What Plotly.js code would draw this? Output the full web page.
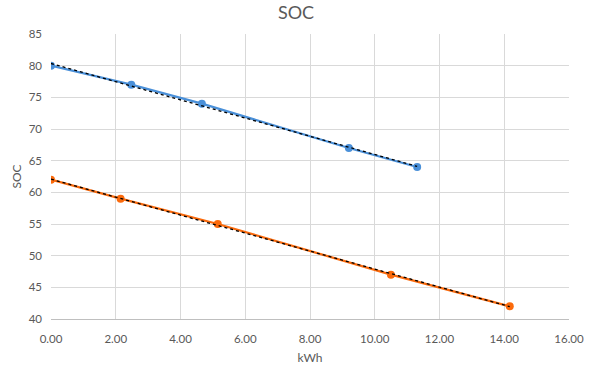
<!DOCTYPE html>
<html>
<head>
<meta charset="utf-8">
<script src="https://cdn.plot.ly/plotly-3.0.1.min.js"></script>
<style>html,body{margin:0;padding:0;background:#fff;}#chart{width:592px;height:368px;}</style>
</head>
<body>
<div id="chart"></div>
<script>
const blueKWh = [0.00, 2.48, 4.66, 9.20, 11.31];
const blueSOC = [80, 77, 74, 67, 64];
const orangeKWh = [0.00, 2.15, 5.15, 10.50, 14.17];
const orangeSOC = [62, 59, 55, 47, 42];
const xTicks = [0, 2, 4, 6, 8, 10, 12, 14, 16];
const yTicks = [40, 45, 50, 55, 60, 65, 70, 75, 80, 85];

function fit(xs, ys) {
  const n = xs.length;
  const mx = xs.reduce((a, b) => a + b, 0) / n;
  const my = ys.reduce((a, b) => a + b, 0) / n;
  let sxy = 0, sxx = 0;
  for (let i = 0; i < n; i++) { sxy += (xs[i] - mx) * (ys[i] - my); sxx += (xs[i] - mx) ** 2; }
  const m = sxy / sxx, b = my - m * mx;
  const x0 = Math.min(...xs), x1 = Math.max(...xs);
  return { x: [x0, x1], y: [m * x0 + b, m * x1 + b] };
}
const fb = fit(blueKWh, blueSOC);
const fo = fit(orangeKWh, orangeSOC);

const blue = '#4a90d9', orange = '#fb6a0c';
const traces = [
  { x: blueKWh, y: blueSOC, mode: 'lines+markers', line: { color: blue, width: 2.25 }, marker: { color: blue, size: 8 }, showlegend: false },
  { x: orangeKWh, y: orangeSOC, mode: 'lines+markers', line: { color: orange, width: 2.25 }, marker: { color: orange, size: 8 }, showlegend: false },
  { x: fb.x, y: fb.y, mode: 'lines', line: { color: '#000', width: 1.3, dash: 'dot' }, showlegend: false },
  { x: fo.x, y: fo.y, mode: 'lines', line: { color: '#000', width: 1.3, dash: 'dot' }, showlegend: false }
];
const font = { family: 'Lato, "Open Sans", sans-serif', color: '#595959', size: 11 };
const layout = {
  width: 592, height: 368,
  margin: { l: 51, r: 23, t: 34, b: 49 },
  paper_bgcolor: '#fff', plot_bgcolor: '#fff',
  font: font,
  title: { text: 'SOC', x: 0.5, xanchor: 'center', y: 0.965, yanchor: 'middle', font: { family: font.family, size: 18, color: '#595959' } },
  xaxis: {
    range: [0, 16], tickvals: xTicks, ticktext: xTicks.map(v => v.toFixed(2)),
    showgrid: true, gridcolor: '#d9d9d9', gridwidth: 1, zeroline: false,
    showline: true, linecolor: '#bfbfbf', linewidth: 1, ticks: '', ticklen: 0,
    ticklabelstandoff: 9,
    tickfont: { size: 11.5, color: '#595959' },
    title: { text: 'kWh', font: { size: 12, color: '#595959' }, standoff: 9 }
  },
  yaxis: {
    range: [40, 85], tickvals: yTicks,
    showgrid: true, gridcolor: '#d9d9d9', gridwidth: 1, zeroline: false,
    showline: false, ticks: '', ticklen: 0,
    ticklabelstandoff: 8,
    tickfont: { size: 11.5, color: '#595959' },
    title: { text: 'SOC', font: { size: 12, color: '#595959' }, standoff: 4 }
  }
};
Plotly.newPlot('chart', traces, layout, { displayModeBar: false, staticPlot: true });
</script>
</body>
</html>
